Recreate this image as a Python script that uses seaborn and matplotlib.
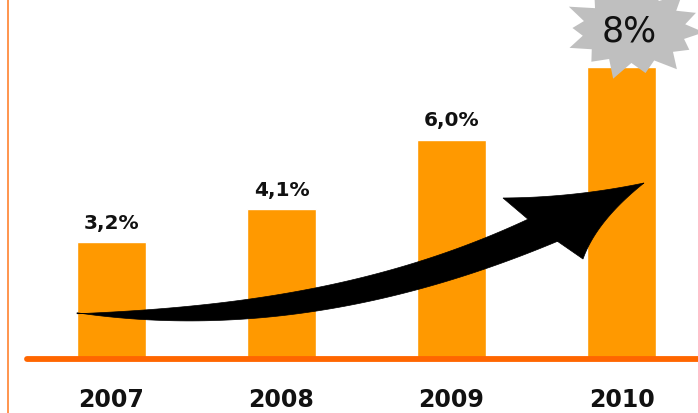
import numpy as np
import pandas as pd
import matplotlib
matplotlib.use("Agg")
import matplotlib.pyplot as plt
from matplotlib.patches import Polygon
import seaborn as sns

# ---- data ----
years = ["2007", "2008", "2009", "2010"]
growth = [3.2, 4.1, 6.0, 8.0]
value_labels = ["3,2%", "4,1%", "6,0%", ""]
highlight_label = "8%"

BAR = "#FF9900"
BASE = "#FF6600"
SIDE = "#FF8C40"
STAR = "#BFBFBF"

sns.set_theme(style="white")
plt.rcParams["font.family"] = ["DejaVu Sans"]

W, H = 698, 414
fig = plt.figure(figsize=(W / 100, H / 100), dpi=100)
ax = fig.add_axes([8 / W, 0, 690 / W, 1])

df = pd.DataFrame({"year": years, "growth": growth})
sns.barplot(data=df, x="year", y="growth", color=BAR, saturation=1, width=0.41, ax=ax, zorder=2)

ax.set_xlim(-0.609, 3.45)
ax.set_ylim(-54 / 36.5, 360 / 36.5)
ax.set_xticks([])
ax.set_yticks([])
ax.set_xlabel("")
ax.set_ylabel("")
for s in ["top", "right", "bottom"]:
    ax.spines[s].set_visible(False)
ax.spines["left"].set_color(SIDE)
ax.spines["left"].set_linewidth(1.3)

# baseline
ax.plot([-0.5, 3.45], [0, 0], color=BASE, lw=4.2, solid_capstyle="round", zorder=3, clip_on=False)

# year labels & value labels
for i, (yr, v, lab) in enumerate(zip(years, growth, value_labels)):
    ax.text(i, -1.1, yr, ha="center", va="center", fontsize=17, fontweight="bold", color="#111111")
    if lab:
        ax.annotate(lab, (i, v), xytext=(0, 14.5), textcoords="offset points",
                    ha="center", va="center", fontsize=14.5, fontweight="bold", color="#111111")

# ---- decoration overlay (pixel coords) ----
ov = fig.add_axes([0, 0, 1, 1], zorder=5)
ov.set_xlim(0, W)
ov.set_ylim(H, 0)
ov.axis("off")
ov.patch.set_alpha(0)

# starburst
cx, cy = 634, 31
n = 14
ang = np.linspace(0, 2 * np.pi, 2 * n, endpoint=False) + 0.05
ro = np.array([1.0, 0.9, 1.05, 0.95, 1.1, 0.92, 1.0, 0.88, 1.06, 0.97, 1.0, 0.93, 1.04, 0.96])
pts = []
for k, a in enumerate(ang):
    if k % 2 == 0:
        r = ro[(k // 2) % len(ro)]
        rx, ry = 70 * r, 46 * r
    else:
        rx, ry = 52, 33
    pts.append((cx + rx * np.cos(a), cy + ry * np.sin(a)))
ov.add_patch(Polygon(pts, closed=True, facecolor=STAR, edgecolor="none"))
ov.text(629, 32, highlight_label, ha="center", va="center", fontsize=25, color="#111111")

# curved arrow
ux = np.array([77, 146, 250, 360, 450, 528]); uy = np.array([313, 315, 297, 278, 255, 219])
lx = np.array([77, 146, 200, 250, 360, 450, 557]); ly = np.array([313, 322, 323, 318, 303, 283, 242])
pu = np.polyfit(ux, uy, 3); pl = np.polyfit(lx, ly, 3)
xu = np.linspace(77, 528, 80); xl = np.linspace(557, 77, 80)
hx = np.array([503, 583, 644]); hy = np.array([199, 194, 184])
ph = np.polyfit(hx, hy, 2); xh = np.linspace(503, 644, 30)
ry_ = np.array([184, 222, 260]); rx_ = np.array([644, 605, 583])
pr = np.polyfit(ry_, rx_, 2); yr_ = np.linspace(184, 260, 30)
poly = (list(zip(xu, np.polyval(pu, xu)))
        + list(zip(xh, np.polyval(ph, xh)))
        + list(zip(np.polyval(pr, yr_), yr_))
        + [(557, 242)]
        + list(zip(xl, np.polyval(pl, xl))))
ov.add_patch(Polygon(poly, closed=True, facecolor="black", edgecolor="black", lw=0.5))

fig.savefig("out.png", dpi=100)
